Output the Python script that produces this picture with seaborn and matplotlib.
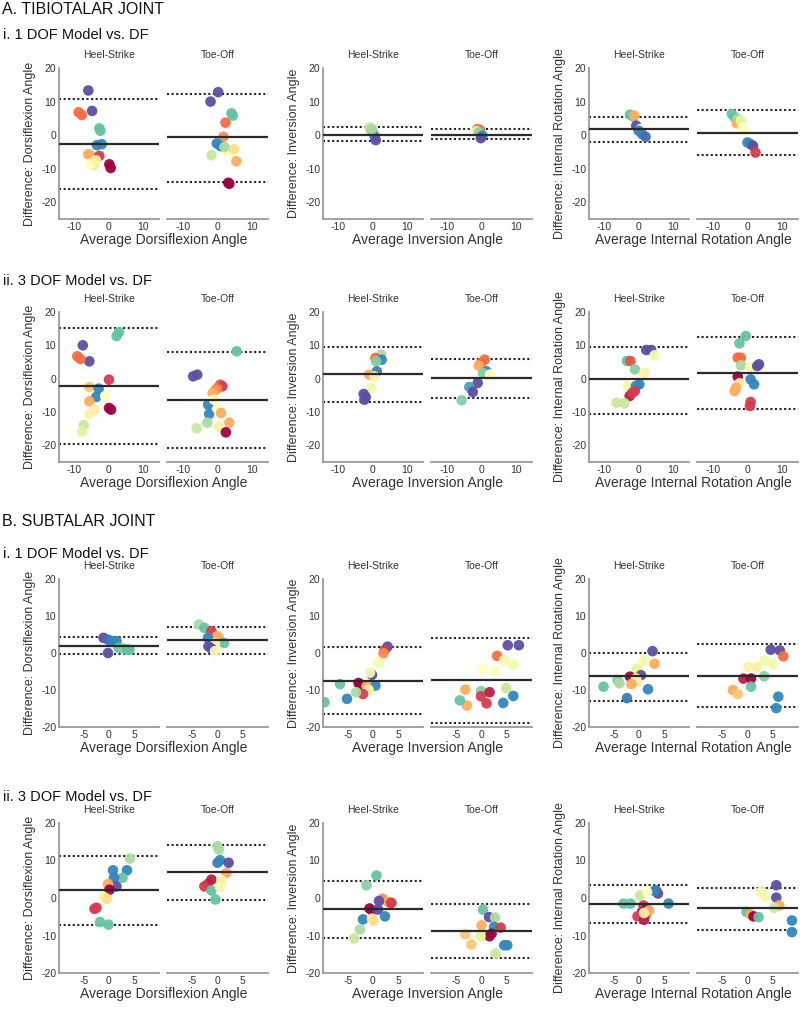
import numpy as np
import pandas as pd
import matplotlib
matplotlib.use('Agg')
import matplotlib.pyplot as plt
import seaborn as sns

sns.set_theme(style='white')
plt.rcParams['font.family'] = ['Liberation Sans', 'DejaVu Sans']
plt.rcParams['axes.unicode_minus'] = False

# ---------------- text ----------------
joints = ['A. TIBIOTALAR JOINT', 'B. SUBTALAR JOINT']
models = ['i. 1 DOF Model vs. DF', 'ii. 3 DOF Model vs. DF']
phases = ['Heel-Strike', 'Toe-Off']
angles = ['Dorsiflexion', 'Inversion', 'Internal Rotation']

# ---------------- data ----------------
# points: (average angle, difference, position on Spectral colormap = subject)
A1_DF_HS = [(-6.0,13.3,1.0),(-4.9,7.2,1.0),(-8.8,6.8,0.2),(-7.9,6.0,0.2),(-2.8,2.0,0.8),(-2.5,1.3,0.8),
            (-3.5,-3.0,0.9),(-2.1,-2.7,0.9),(-6.0,-5.7,0.3),(-5.3,-6.1,0.3),(-2.8,-6.2,0.1),(-4.4,-9.0,0.6),
            (-5.3,-8.5,0.5),(0.1,-8.7,0.0),(0.5,-9.8,0.0),(-3.8,-7.5,0.45)]
A1_DF_TO = [(0.2,12.8,1.0),(-2.0,10.0,1.0),(4.0,6.5,0.8),(4.4,5.8,0.8),(2.3,3.7,0.2),(1.7,-0.5,0.25),
            (-0.2,-2.5,0.9),(0.9,-3.3,0.9),(2.8,-4.5,0.45),(4.0,-5.0,0.5),(4.7,-4.2,0.4),(5.4,-7.8,0.3),
            (-1.7,-6.0,0.65),(3.4,-14.5,0.0),(3.1,-14.2,0.0),(2.0,-3.5,0.7)]
A1_INV_HS = [(-1.0,2.3,0.65),(-0.5,1.3,0.3),(0.0,0.8,0.8),(0.5,-0.5,0.9),(0.8,-1.5,1.0),(-0.3,1.8,0.7)]
A1_INV_TO = [(-1.2,1.8,0.2),(-0.4,1.5,0.2),(-1.4,1.2,0.45),(-0.7,0.8,0.75),(0.3,-0.2,0.9),(-0.2,-0.9,1.0)]
A1_IR_HS = [(-2.6,6.1,0.8),(-1.6,5.5,0.8),(-1.4,5.8,0.3),(-0.8,2.8,1.0),(0.4,1.8,0.5),(-0.1,1.3,0.9),
            (0.9,0.3,0.9),(1.9,-0.5,0.95)]
A1_IR_TO = [(-4.5,6.3,0.8),(-3.7,5.3,0.8),(-2.8,4.8,0.7),(-3.1,3.5,0.3),(-1.9,4.3,0.6),(-1.4,2.3,0.5),
            (-0.9,1.3,0.5),(0.0,-2.2,0.9),(0.9,-2.7,0.9),(1.6,-3.2,1.0),(2.3,-5.2,0.1)]

A2_DF_HS = [(2.2,12.8,0.8),(2.9,14.0,0.8),(-7.6,10.0,1.0),(-5.7,5.2,1.0),(-9.2,6.7,0.2),(-8.3,5.9,0.2),
            (0.0,-0.3,0.1),(-5.7,-2.5,0.35),(-3.0,-3.0,0.9),(-3.7,-5.5,0.9),(-5.7,-6.8,0.3),(-1.1,-5.3,0.5),
            (0.0,-8.8,0.0),(0.6,-9.3,0.0),(-5.7,-10.7,0.45),(-4.2,-9.3,0.45),(-7.3,-13.9,0.65),(-7.8,-15.9,0.6)]
A2_DF_TO = [(5.5,8.2,0.8),(-7.0,0.7,1.0),(-5.8,1.2,1.0),(0.8,-1.8,0.15),(1.4,-2.3,0.1),(0.0,-2.8,0.2),
            (-0.5,-3.3,0.25),(-1.4,-4.3,0.3),(-2.7,-7.8,0.9),(-2.4,-10.6,0.9),(-1.0,-6.3,0.5),(0.0,-9.1,0.5),
            (1.0,-10.3,0.3),(3.4,-13.2,0.3),(-2.9,-13.2,0.7),(-6.0,-14.9,0.65),(0.5,-14.4,0.45),(2.4,-16.1,0.0)]
A2_INV_HS = [(2.4,7.2,0.7),(0.7,6.2,0.2),(2.5,5.7,0.9),(0.9,5.2,0.75),(1.1,2.2,0.92),(-1.1,1.2,0.3),
             (0.4,0.7,0.45),(-0.6,-2.8,0.55),(-2.7,-4.6,1.0),(-2.1,-5.5,1.0),(-2.5,-6.3,1.0)]
A2_INV_TO = [(0.9,5.7,0.2),(-0.1,4.7,0.2),(-0.8,3.9,0.3),(1.4,2.2,0.9),(0.4,1.7,0.75),(2.4,1.2,0.5),
             (-1.1,-1.3,1.0),(-3.5,-2.5,0.85),(-2.5,-4.0,1.0),(-5.7,-6.5,0.75)]
A2_IR_HS = [(2.1,8.6,1.0),(3.5,8.6,1.0),(4.5,7.0,0.55),(-3.5,5.3,0.8),(-2.5,5.3,0.15),(-1.2,2.8,0.75),
            (1.5,1.8,0.45),(-3.2,-2.2,0.55),(-0.9,-2.2,0.9),(0.1,-1.7,0.9),(-2.7,-5.2,0.05),(-1.9,-4.2,0.1),
            (-1.2,-3.7,0.1),(-6.5,-7.2,0.65),(-4.2,-7.4,0.65)]
A2_IR_TO = [(-0.5,12.8,0.8),(-2.3,10.6,0.8),(-2.8,6.3,0.2),(-1.9,6.3,0.2),(-1.9,4.0,0.7),(0.9,3.6,0.55),
            (2.8,3.8,1.0),(3.3,4.3,1.0),(-2.8,0.6,0.0),(0.9,-0.2,0.9),(1.9,-1.7,0.9),(-2.3,-1.4,0.45),
            (-3.3,-2.7,0.3),(-3.7,-3.7,0.3),(0.9,-7.0,0.1),(0.7,-8.2,0.1)]

B1_DF_HS = [(-1.1,4.1,1.0),(-0.2,3.6,0.95),(0.6,3.2,0.9),(1.5,3.2,0.9),(1.9,1.4,0.8),(2.9,1.2,0.75),
            (3.6,0.9,0.8),(4.1,0.9,0.8),(-0.2,0.0,1.0)]
B1_DF_TO = [(-3.7,7.7,0.7),(-2.6,6.8,0.8),(-1.2,5.9,0.1),(-0.1,4.5,0.3),(0.3,4.0,0.3),(-1.9,4.1,0.9),
            (1.3,2.7,0.8),(-0.5,2.7,0.45),(-1.8,1.8,1.0),(-1.2,1.2,1.0),(-0.5,0.5,0.55)]
B1_INV_HS = [(2.9,1.7,1.0),(2.3,0.8,0.1),(2.1,-0.1,0.25),(1.2,-2.6,0.55),(-0.2,-5.9,1.0),(-0.6,-5.3,0.55),
             (-6.6,-8.4,0.8),(-2.9,-8.1,0.0),(-2.4,-8.6,0.0),(-1.3,-9.0,0.3),(0.5,-8.8,0.9),(-0.9,-9.9,0.45),
             (-2.0,-11.1,0.1),(-3.4,-10.6,0.7),(-5.2,-12.4,0.9),(-9.7,-13.3,0.8)]
B1_INV_TO = [(5.2,2.1,1.0),(7.4,2.1,1.0),(3.1,-0.8,0.2),(4.5,-1.9,0.55),(6.3,-3.2,0.55),(0.2,-4.4,0.5),
             (2.6,-5.0,0.5),(-3.2,-9.9,0.3),(-2.9,-14.2,0.3),(-4.3,-12.8,0.8),(-0.1,-10.3,0.75),
             (-0.1,-11.7,0.1),(1.6,-10.6,0.05),(1.0,-13.6,0.1),(4.9,-9.5,0.65),(4.3,-13.5,0.9),(6.3,-11.6,0.9)]
B1_IR_HS = [(2.7,0.5,1.0),(1.0,-2.0,0.55),(3.1,-2.9,0.3),(-0.4,-4.2,0.6),(0.4,-6.0,1.0),(-1.8,-6.4,0.0),
            (-0.6,-6.9,0.45),(-0.4,-7.8,0.45),(-1.5,-8.4,0.3),(-4.3,-7.3,0.75),(-3.9,-8.2,0.7),
            (-7.1,-9.1,0.8),(1.8,-9.8,0.9),(-2.4,-12.2,0.92)]
B1_IR_TO = [(4.6,0.9,1.0),(6.4,0.7,1.0),(7.1,-0.9,0.2),(3.4,-2.0,0.55),(5.0,-3.0,0.55),(0.2,-3.8,0.45),
            (1.9,-3.8,0.45),(-0.8,-6.9,0.05),(0.7,-6.9,0.0),(3.3,-6.3,0.75),(0.7,-9.1,0.8),(-2.9,-10.0,0.3),
            (-1.9,-11.1,0.35),(6.1,-11.8,0.9),(5.7,-14.9,0.9)]

B2_DF_HS = [(4.2,10.5,0.7),(0.8,7.4,0.9),(3.6,7.4,0.9),(2.7,5.4,0.8),(1.0,5.4,0.92),(1.5,3.1,1.0),
            (-0.2,3.7,0.3),(0.1,2.2,0.0),(-1.1,0.3,0.55),(-0.4,-0.2,0.4),(-2.9,-2.9,0.1),(-2.5,-2.6,0.1),
            (-1.8,-6.4,0.8),(-0.1,-7.1,0.8)]
B2_DF_TO = [(0.0,13.8,0.7),(0.3,12.9,0.7),(0.5,10.1,0.9),(0.0,9.4,0.9),(2.2,9.4,1.0),(1.8,6.7,0.3),
            (-2.6,3.1,0.1),(-1.9,3.8,0.1),(-1.2,4.9,0.05),(0.8,4.7,0.45),(-1.2,2.0,0.8),(0.5,2.9,0.55),
            (-0.4,-0.4,0.8)]
B2_INV_HS = [(0.7,6.0,0.8),(-1.3,3.4,0.75),(1.9,-0.2,0.25),(3.0,-1.1,0.3),(3.7,-1.3,0.2),(1.2,-0.8,1.0),
             (3.6,-1.3,0.1),(-0.7,-2.8,0.0),(-0.2,-3.3,0.0),(1.0,-3.1,1.0),(-2.0,-5.7,0.9),(2.4,-4.9,0.9),
             (-0.2,-5.5,0.45),(0.1,-6.0,0.4),(-2.6,-8.4,0.7),(-3.8,-10.8,0.65)]
B2_INV_TO = [(0.3,-3.1,0.8),(1.5,-5.1,1.0),(2.7,-5.2,0.7),(0.0,-7.3,0.3),(2.5,-7.7,0.9),(3.8,-7.9,0.1),
             (2.0,-9.5,0.0),(1.6,-10.2,0.0),(-3.2,-9.7,0.35),(-2.0,-12.4,0.35),(-0.2,-10.2,0.6),
             (4.5,-12.6,0.9),(5.1,-12.6,0.9),(2.8,-14.8,0.65)]
B2_IR_HS = [(3.4,2.0,1.0),(3.8,1.2,1.0),(3.1,1.9,0.9),(0.2,0.7,0.65),(1.6,1.6,0.5),(-3.1,-1.5,0.8),
            (-1.7,-1.5,0.8),(5.9,-1.5,0.9),(0.9,-2.0,0.1),(1.5,-2.9,0.0),(0.6,-3.7,0.05),(1.3,-4.6,0.1),
            (-0.3,-4.9,0.1),(1.0,-5.8,0.05),(2.0,-3.3,0.3),(1.0,-4.0,0.45)]
B2_IR_TO = [(5.7,3.4,1.0),(5.7,0.1,1.0),(2.6,1.6,0.55),(3.6,0.3,0.55),(6.3,-2.0,0.3),(5.3,-2.6,0.65),
            (-0.2,-3.7,0.8),(0.6,-4.4,0.3),(1.2,-4.9,0.0),(2.2,-5.1,0.8),(8.8,-6.0,0.9),(8.8,-9.1,0.9)]

# bias line and limits of agreement: (mean, upper, lower)
A1_DF_LINES = [(-2.7, 10.7, -16.0), (-0.7, 12.3, -14.0)]
A1_INV_LINES = [(0.1, 2.3, -1.7), (0.1, 1.7, -1.2)]
A1_IR_LINES = [(1.7, 5.5, -2.2), (0.7, 7.5, -5.9)]
A2_DF_LINES = [(-2.1, 15.3, -19.7), (-6.3, 8.0, -20.9)]
A2_INV_LINES = [(1.3, 9.5, -7.0), (0.1, 6.0, -5.9)]
A2_IR_LINES = [(-0.2, 9.6, -10.5), (1.8, 12.6, -9.0)]
B1_DF_LINES = [(2.0, 4.3, -0.2), (3.4, 7.0, -0.2)]
B1_INV_LINES = [(-7.5, 1.5, -16.4), (-7.2, 4.1, -18.8)]
B1_IR_LINES = [(-6.3, 0.1, -12.9), (-6.2, 2.3, -14.6)]
B2_DF_LINES = [(2.2, 11.2, -7.1), (7.0, 14.1, -0.4)]
B2_INV_LINES = [(-3.0, 4.5, -10.7), (-8.8, -1.7, -15.9)]
B2_IR_LINES = [(-1.5, 3.6, -6.7), (-2.7, 2.8, -8.4)]

POINTS = [
    [[A1_DF_HS, A1_DF_TO], [A1_INV_HS, A1_INV_TO], [A1_IR_HS, A1_IR_TO]],
    [[A2_DF_HS, A2_DF_TO], [A2_INV_HS, A2_INV_TO], [A2_IR_HS, A2_IR_TO]],
    [[B1_DF_HS, B1_DF_TO], [B1_INV_HS, B1_INV_TO], [B1_IR_HS, B1_IR_TO]],
    [[B2_DF_HS, B2_DF_TO], [B2_INV_HS, B2_INV_TO], [B2_IR_HS, B2_IR_TO]],
]
LINES = [
    [A1_DF_LINES, A1_INV_LINES, A1_IR_LINES],
    [A2_DF_LINES, A2_INV_LINES, A2_IR_LINES],
    [B1_DF_LINES, B1_INV_LINES, B1_IR_LINES],
    [B2_DF_LINES, B2_INV_LINES, B2_IR_LINES],
]

# ---------------- layout (pixels) ----------------
W, H = 800, 1019
fig = plt.figure(figsize=(W / 100, H / 100), dpi=100)
row_px = [(68, 219), (312, 462), (579, 727), (823, 973)]
group_left = [59, 323, 589]
sub_off = [0, 108]
sub_w = [100, 101]
GRAY = '#9a9a9a'
TXT = '#333333'

def rect(x0, top, w, bottom):
    return [x0 / W, 1 - bottom / H, w / W, (bottom - top) / H]

for r in range(4):
    top, bot = row_px[r]
    is_a = r < 2
    for g in range(3):
        for p in range(2):
            ax = fig.add_axes(rect(group_left[g] + sub_off[p], top, sub_w[p], bot))
            df = pd.DataFrame(POINTS[r][g][p], columns=['avg', 'diff', 'subj'])
            mean, up, lo = LINES[r][g][p]
            ax.axhline(up, color='#222222', lw=1.5, ls=(0, (1, 1.2)), zorder=1)
            ax.axhline(lo, color='#222222', lw=1.5, ls=(0, (1, 1.2)), zorder=1)
            sns.scatterplot(data=df, x='avg', y='diff', hue='subj', palette='Spectral',
                            hue_norm=(0, 1), s=58, linewidth=0, alpha=0.95,
                            legend=False, ax=ax, zorder=2)
            ax.axhline(mean, color='#2a2a2a', lw=1.6, zorder=3)
            if is_a:
                ax.set_xlim(-14.5, 14.5)
                ax.set_ylim(-25, 20)
                ax.set_xticks([-10, 0, 10])
            else:
                ax.set_xlim(-10, 10)
                ax.set_ylim(-20, 20)
                ax.set_xticks([-5, 0, 5])
            ax.set_yticks([-20, -10, 0, 10, 20])
            ax.set_yticks(np.arange(-20, 21, 5), minor=True)
            ax.set_xlabel('')
            ax.set_ylabel('')
            for s in ['top', 'right']:
                ax.spines[s].set_visible(False)
            ax.spines['bottom'].set_color(GRAY)
            ax.spines['bottom'].set_linewidth(1.3)
            ax.tick_params(axis='x', direction='in', length=3, width=0.8, color=GRAY,
                           labelsize=7.5, labelcolor=TXT, pad=2)
            if p == 0:
                ax.spines['left'].set_color(GRAY)
                ax.spines['left'].set_linewidth(1.3)
                ax.tick_params(axis='y', which='both', direction='in', length=3, width=0.8,
                               color=GRAY, labelsize=7.5, labelcolor=TXT, pad=2)
                ax.set_ylabel('Difference: ' + angles[g] + ' Angle', fontsize=9, color=TXT)
                ax.yaxis.set_label_coords(-0.23, 0.5)
            else:
                ax.spines['left'].set_visible(False)
                ax.tick_params(axis='y', which='both', left=False, labelleft=False)
            ax.set_title(phases[p], fontsize=7.5, color=TXT, pad=7)
        # shared x label under the pair
        cx = group_left[g] + (sub_off[1] + sub_w[1]) / 2
        fig.text(cx / W, 1 - (bot + 21) / H, 'Average ' + angles[g] + ' Angle',
                 ha='center', va='center', fontsize=10, color=TXT)

# headings
fig.text(2 / W, 1 - 9 / H, joints[0], ha='left', va='center', fontsize=11.5, color='#111111')
fig.text(3 / W, 1 - 35 / H, models[0], ha='left', va='center', fontsize=10.5, color='#111111')
fig.text(3 / W, 1 - 281 / H, models[1], ha='left', va='center', fontsize=10.5, color='#111111')
fig.text(2 / W, 1 - 521 / H, joints[1], ha='left', va='center', fontsize=11.5, color='#111111')
fig.text(3 / W, 1 - 554 / H, models[0], ha='left', va='center', fontsize=10.5, color='#111111')
fig.text(3 / W, 1 - 797 / H, models[1], ha='left', va='center', fontsize=10.5, color='#111111')

fig.savefig('out.png', dpi=100, facecolor='white')
